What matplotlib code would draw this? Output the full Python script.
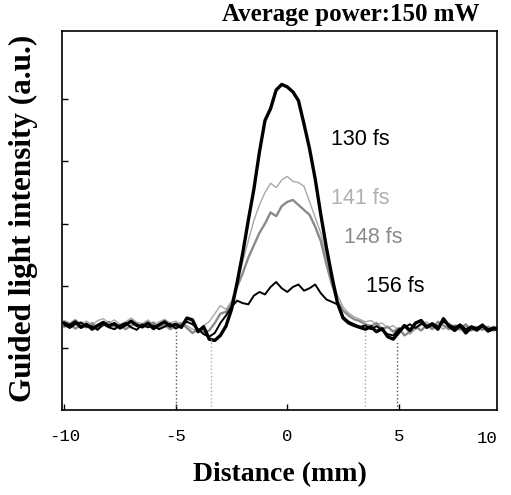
import numpy as np
import matplotlib
matplotlib.use("Agg")
import matplotlib.pyplot as plt

# sampling grid along the waveguide (mm)
distance = np.arange(-10.0, 10.0, 0.25)

# guided light intensity (a.u.), one row per mm
int_130fs = [
    1.40, 1.36, 1.42, 1.33,
    1.38, 1.30, 1.36, 1.41,
    1.35, 1.39, 1.32, 1.37,
    1.43, 1.36, 1.34, 1.40,
    1.31, 1.37, 1.42, 1.35,
    1.38, 1.33, 1.48, 1.45,
    1.26, 1.34, 1.14, 1.12,
    1.20, 1.35, 1.62, 2.05,
    2.52, 3.05, 3.55, 4.15,
    4.66, 4.85, 5.15, 5.24,
    5.20, 5.12, 4.98, 4.60,
    4.20, 3.72, 3.15, 2.62,
    2.15, 1.72, 1.48, 1.40,
    1.36, 1.33, 1.30, 1.34,
    1.26, 1.31, 1.18, 1.14,
    1.25, 1.36, 1.28, 1.40,
    1.44, 1.33, 1.38, 1.30,
    1.47, 1.35, 1.28, 1.36,
    1.24, 1.33, 1.29, 1.36,
    1.27, 1.31, 1.29, 1.33,
]
int_141fs = [
    1.44, 1.40, 1.46, 1.38,
    1.43, 1.37, 1.44, 1.47,
    1.40, 1.45, 1.38, 1.42,
    1.48, 1.41, 1.39, 1.45,
    1.37, 1.42, 1.46, 1.40,
    1.43, 1.38, 1.36, 1.30,
    1.28, 1.36, 1.42, 1.55,
    1.68, 1.62, 1.75, 2.05,
    2.38, 2.72, 3.05, 3.30,
    3.50, 3.65, 3.58, 3.70,
    3.76, 3.68, 3.66, 3.60,
    3.35, 3.10, 2.85, 2.45,
    2.12, 1.85, 1.66, 1.56,
    1.50, 1.46, 1.42, 1.44,
    1.38, 1.40, 1.32, 1.36,
    1.28, 1.35, 1.22, 1.30,
    1.36, 1.42, 1.32, 1.36,
    1.30, 1.40, 1.34, 1.28,
    1.35, 1.30, 1.26, 1.33,
    1.30, 1.35, 1.31, 1.28,
]
int_148fs = [
    1.34, 1.38, 1.31, 1.37,
    1.33, 1.40, 1.32, 1.36,
    1.42, 1.34, 1.37, 1.30,
    1.36, 1.40, 1.33, 1.36,
    1.41, 1.32, 1.37, 1.30,
    1.35, 1.40, 1.32, 1.24,
    1.30, 1.25, 1.28, 1.40,
    1.55, 1.58, 1.70, 1.98,
    2.20, 2.45, 2.65, 2.85,
    3.00, 3.18, 3.12, 3.28,
    3.35, 3.38, 3.30, 3.22,
    3.14, 2.95, 2.72, 2.35,
    2.02, 1.75, 1.60, 1.52,
    1.46, 1.43, 1.38, 1.35,
    1.40, 1.30, 1.34, 1.26,
    1.32, 1.20, 1.26, 1.34,
    1.28, 1.37, 1.30, 1.42,
    1.36, 1.30, 1.36, 1.31,
    1.38, 1.28, 1.33, 1.29,
    1.34, 1.28, 1.32, 1.30,
]
int_156fs = [
    1.37, 1.32, 1.38, 1.41,
    1.34, 1.35, 1.29, 1.38,
    1.33, 1.30, 1.36, 1.40,
    1.33, 1.29, 1.38, 1.33,
    1.36, 1.30, 1.34, 1.39,
    1.31, 1.36, 1.42, 1.38,
    1.30, 1.22, 1.18, 1.24,
    1.40, 1.52, 1.66, 1.76,
    1.72, 1.70, 1.84, 1.90,
    1.86, 1.98, 2.06, 1.96,
    1.90, 1.98, 2.02, 1.92,
    1.96, 2.02, 1.88, 1.78,
    1.74, 1.70, 1.50, 1.42,
    1.38, 1.34, 1.36, 1.30,
    1.35, 1.28, 1.22, 1.20,
    1.30, 1.33, 1.38, 1.32,
    1.39, 1.35, 1.40, 1.34,
    1.42, 1.37, 1.33, 1.38,
    1.30, 1.35, 1.32, 1.38,
    1.30, 1.33, 1.31, 1.29,
]

pulse_labels = ["130 fs", "141 fs", "148 fs", "156 fs"]

# dotted width markers
marker_x = [-4.98, -3.4, 3.5, 4.93]
marker_top = [1.28, 1.15, 1.28, 1.12]

fig = plt.figure(figsize=(5.11, 4.95), dpi=100)
ax = fig.add_axes([0.1213, 0.1717, 0.8513, 0.7657])

ax.plot(distance, int_141fs, color="#a8a8a8", lw=1.0)
ax.plot(distance, int_148fs, color="#8a8a8a", lw=1.7)
ax.plot(distance, int_156fs, color="black", lw=1.4)
ax.plot(distance, int_130fs, color="black", lw=2.4)

ax.vlines(marker_x, 0, marker_top, colors=["#555555", "#aaaaaa", "#aaaaaa", "#555555"],
          linestyles=":", lw=1.0)

label_font = dict(family="Liberation Sans", fontsize=15.5)
ax.text(1.95, 4.35, pulse_labels[0], color="black", va="center", **label_font)
ax.text(1.95, 3.40, pulse_labels[1], color="#b0b0b0", va="center", **label_font)
ax.text(2.55, 2.77, pulse_labels[2], color="#8a8a8a", va="center", **label_font)
ax.text(3.55, 1.98, pulse_labels[3], color="black", va="center", **label_font)

ax.set_xlim(-10.1, 9.4)
ax.set_ylim(0, 6.1)
ax.set_xticks([-10, -5, 0, 5])
ax.set_xticklabels(["-10", "-5", "0", "5"], family="Liberation Mono", fontsize=12.5)
ax.text(1.0, -0.075, "10", transform=ax.transAxes, ha="right", va="center",
        family="Liberation Mono", fontsize=12.5)
ax.set_yticks([1, 2, 3, 4, 5])
ax.set_yticklabels([])
ax.tick_params(direction="in", length=4, width=1, pad=14)

for sp in ax.spines.values():
    sp.set_linewidth(1.2)

fig.text(0.548, 0.041, "Distance (mm)", ha="center", va="center",
         family="Liberation Serif", fontweight="bold", fontsize=20)
fig.text(0.045, 0.559, "Guided light intensity (a.u.)", ha="center", va="center",
         rotation=90, family="Liberation Serif", fontweight="bold", fontsize=22.5)
fig.text(0.939, 0.970, "Average power:150 mW", ha="right", va="center",
         family="Liberation Serif", fontweight="bold", fontsize=18)

fig.savefig("out.png", dpi=100)
